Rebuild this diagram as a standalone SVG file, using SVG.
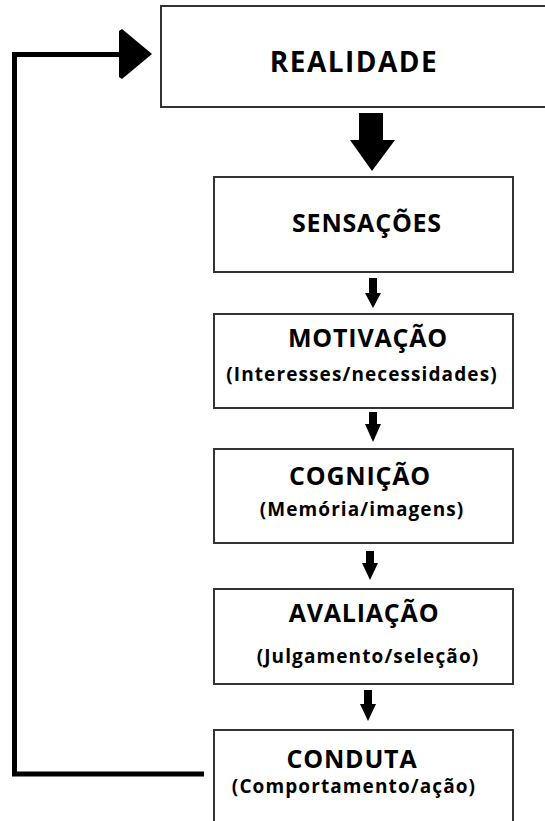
<svg xmlns="http://www.w3.org/2000/svg" width="545" height="821" viewBox="0 0 545 821">
<style>
.box{fill:#fff;stroke:#333;stroke-width:2}
.t{font-family:"Open Sans","Liberation Sans",sans-serif;font-weight:bold;fill:#000;text-anchor:middle}
.h{font-size:25px;letter-spacing:0.8px}
.s{font-size:19px;letter-spacing:1.1px}
.arr{fill:#000}
</style>
<rect width="545" height="821" fill="#fff"/>
<g id="connectors">
<path d="M204,774 H14.5 V54.5 H124" fill="none" stroke="#000" stroke-width="5"/>
<polygon class="arr" points="119,31 122,29 152,54 122,79 119,77"/>
<polygon class="arr" points="359,113 383,113 383,140 395,140 372,171 350,140 359,140"/>
<polygon class="arr" points="369,278 377,278 377,293 381,293 373,308 365,293 369,293"/>
<polygon class="arr" points="369,412 377,412 377,424 381,424 373,442 365,424 369,424"/>
<polygon class="arr" points="366,551 374,551 374,563 378,563 370,580 362,563 366,563"/>
<polygon class="arr" points="364,690 372,690 372,704 376,704 368,721 360,704 364,704"/>
</g>
<g id="realidade">
<rect class="box" x="161" y="6" width="400" height="101"/>
<text class="t" x="354" y="72" font-size="28" letter-spacing="1.5">REALIDADE</text>
</g>
<g id="sensacoes">
<rect class="box" x="214" y="177" width="299" height="95"/>
<text class="t h" x="367" y="232">SENSAÇÕES</text>
</g>
<g id="motivacao">
<rect class="box" x="214" y="314" width="299" height="94"/>
<text class="t h" x="368" y="347">MOTIVAÇÃO</text>
<text class="t s" x="362" y="381">(Interesses/necessidades)</text>
</g>
<g id="cognicao">
<rect class="box" x="214" y="449" width="299" height="94"/>
<text class="t h" x="360" y="485">COGNIÇÃO</text>
<text class="t s" x="362" y="516">(Memória/imagens)</text>
</g>
<g id="avaliacao">
<rect class="box" x="214" y="589" width="299" height="95"/>
<text class="t h" x="364" y="622">AVALIAÇÃO</text>
<text class="t s" x="368" y="663">(Julgamento/seleção)</text>
</g>
<g id="conduta">
<rect class="box" x="214" y="730" width="299" height="120"/>
<text class="t h" x="352" y="768">CONDUTA</text>
<text class="t s" x="354" y="793">(Comportamento/ação)</text>
</g>
</svg>
